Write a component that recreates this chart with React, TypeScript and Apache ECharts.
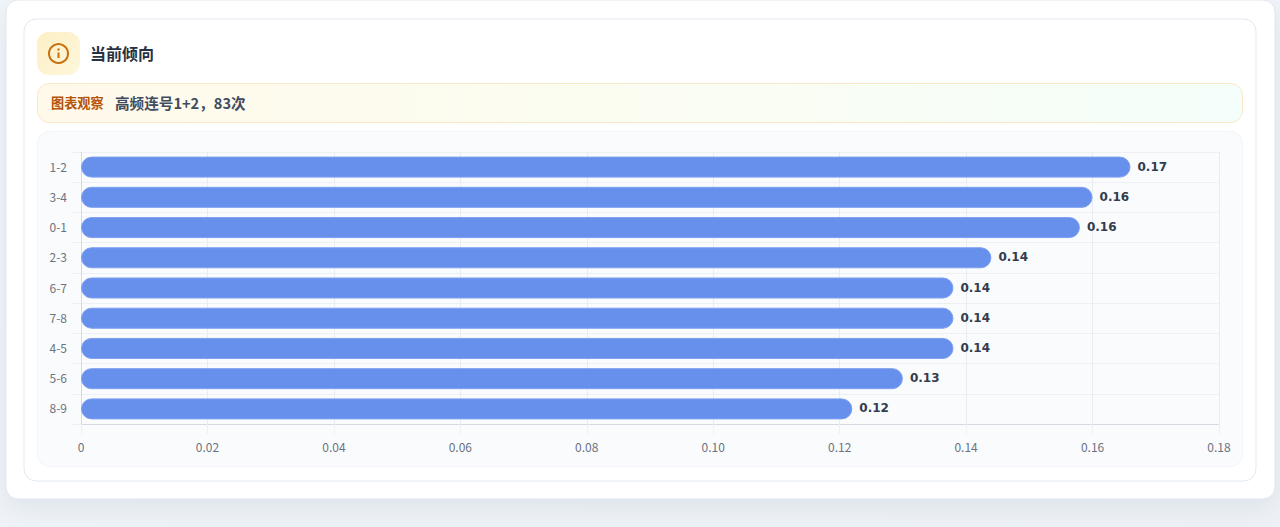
import React, { useEffect, useRef } from "react";
import * as echarts from "echarts";

const categories = ["1-2", "3-4", "0-1", "2-3", "6-7", "7-8", "4-5", "5-6", "8-9"];
const values = [0.166, 0.16, 0.158, 0.144, 0.138, 0.138, 0.138, 0.13, 0.122];
const titleText = "当前倾向";
const noteLabel = "图表观察";
const noteText = "高频连号1+2，83次";
const CJK = '"Noto Sans CJK SC", "Noto Sans", sans-serif';

export default function App() {
  const ref = useRef<HTMLDivElement>(null);
  useEffect(() => {
    document.body.style.margin = "0";
    document.body.style.background = "#eef2f6";
    const chart = echarts.init(ref.current!, undefined, { renderer: "svg" });
    chart.setOption({
      animation: false,
      backgroundColor: {
        type: "linear", x: 0, y: 0, x2: 1, y2: 1,
        colorStops: [{ offset: 0, color: "#f1f5f9" }, { offset: 1, color: "#eef2f6" }],
      },
      grid: { left: 81, right: 61, top: 152, bottom: 103, containLabel: false },
      xAxis: {
        type: "value", min: 0, max: 0.18, interval: 0.02,
        axisLine: { show: true, lineStyle: { color: "#d5d9e2", width: 1 } },
        axisTick: { show: true, length: 10, lineStyle: { color: "#eef0f4" } },
        axisLabel: {
          color: "#6b7280", fontSize: 12, fontFamily: CJK, margin: 16,
          formatter: (v: number) => (v === 0 ? "0" : v.toFixed(2)),
        },
        splitLine: { show: true, lineStyle: { color: "#e9ecf1", width: 1 } },
      },
      yAxis: {
        type: "category", data: categories, inverse: true,
        axisLine: { show: true, lineStyle: { color: "#d5d9e2", width: 1 } },
        axisTick: { show: true, length: 9, lineStyle: { color: "#eef0f4" } },
        axisLabel: { color: "#6b7280", fontSize: 12, fontFamily: CJK, margin: 14, verticalAlign: "bottom", lineHeight: 2 },
        splitLine: { show: true, lineStyle: { color: "#eef0f4", width: 1 } },
      },
      series: [{
        type: "bar", data: values, barWidth: 21,
        itemStyle: { color: "#6690ec", borderRadius: 10, borderColor: "#7d9ff0", borderWidth: 1 },
        label: {
          show: true, position: "right", distance: 7, offset: [0, -0.5],
          formatter: (p: any) => Number(p.value).toFixed(2),
          color: "#333c4d", fontSize: 12, fontWeight: "bold", fontFamily: '"DejaVu Sans", sans-serif',
        },
      }],
      graphic: [
        { type: "rect", z: -10, shape: { x: 6, y: 0, width: 1269, height: 499, r: 12 },
          style: { fill: "#ffffff", stroke: "#dfe5ee", lineWidth: 1, shadowBlur: 28, shadowOffsetY: 10, shadowColor: "rgba(148,163,184,0.2)" } },
        { type: "rect", z: -9, shape: { x: 24, y: 19, width: 1232, height: 462, r: 12 },
          style: { fill: "#ffffff", stroke: "#e2e8f0", lineWidth: 1 } },
        { type: "rect", z: -8, shape: { x: 37, y: 32, width: 43, height: 43, r: 12 },
          style: { fill: { type: "linear", x: 0, y: 0, x2: 1, y2: 1, colorStops: [{ offset: 0, color: "#fdefc4" }, { offset: 1, color: "#fef7dc" }] } } },
        { type: "circle", z: -7, shape: { cx: 58.5, cy: 53.5, r: 9.5 }, style: { fill: "none", stroke: "#c96f0c", lineWidth: 2 } },
        { type: "circle", z: -7, shape: { cx: 58.5, cy: 49.5, r: 1.2 }, style: { fill: "#c96f0c" } },
        { type: "line", z: -7, shape: { x1: 58.5, y1: 52.5, x2: 58.5, y2: 58 }, style: { stroke: "#c96f0c", lineWidth: 2 } },
        { type: "text", z: -7, x: 90, y: 52.5, style: { text: titleText, fill: "#273142", font: `600 16px ${CJK}`, textVerticalAlign: "middle" } },
        { type: "rect", z: -8, shape: { x: 37.5, y: 83.5, width: 1205, height: 39, r: 12 },
          style: {
            stroke: "#fbe8c6", lineWidth: 1,
            fill: { type: "linear", x: 0, y: 0, x2: 1, y2: 0, colorStops: [{ offset: 0, color: "#fff9ea" }, { offset: 0.5, color: "#fbfdf2" }, { offset: 1, color: "#f4fefa" }] },
          } },
        { type: "text", z: -7, x: 51, y: 102.5, style: { text: noteLabel, fill: "#b45309", font: `600 13.2px ${CJK}`, textVerticalAlign: "middle" } },
        { type: "text", z: -7, x: 115, y: 102.5, style: { text: noteText, fill: "#414c5e", font: `600 14.6px ${CJK}`, textVerticalAlign: "middle" } },
        { type: "rect", z: -8, shape: { x: 37.5, y: 131.5, width: 1205, height: 335, r: 12 },
          style: { fill: "#f9fbfd", stroke: "#f1f5f9", lineWidth: 1 } },
      ],
    });
    return () => chart.dispose();
  }, []);
  return <div ref={ref} style={{ width: 1280, height: 527 }} />;
}
